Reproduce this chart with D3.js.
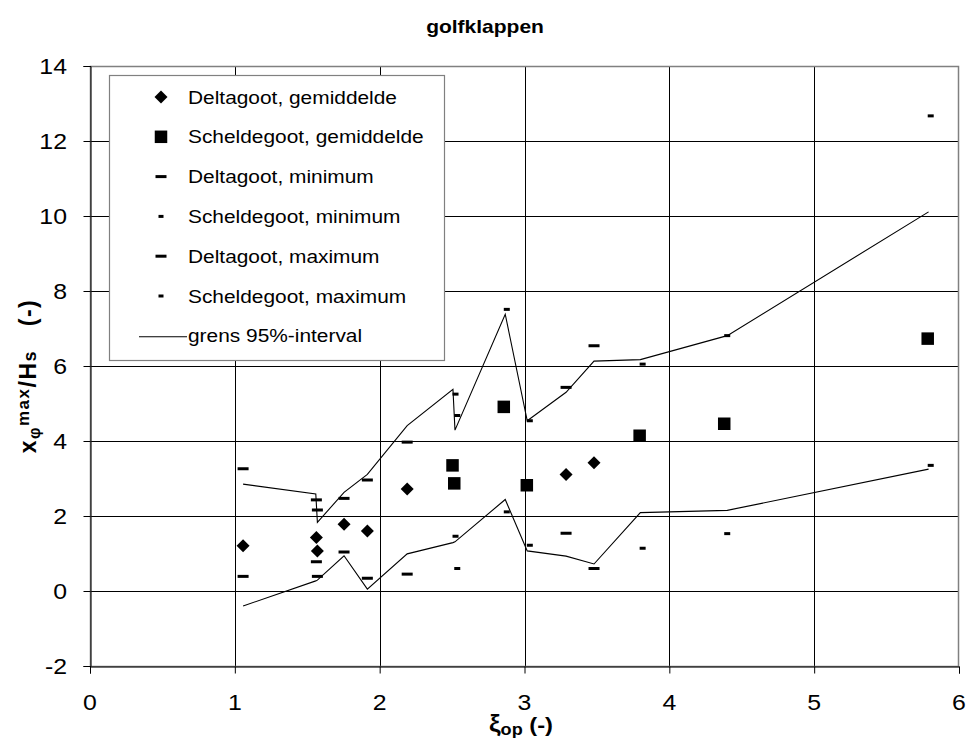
<!DOCTYPE html>
<html><head><meta charset="utf-8">
<script src="https://cdn.jsdelivr.net/npm/d3@7"></script>
<style>body{margin:0;background:#fff}svg{display:block;font-family:"Liberation Sans",Arial,sans-serif}</style>
</head><body><svg id="c" width="970" height="746"></svg>
<script>
// ---- data ----
const xTicks = [0,1,2,3,4,5,6];
const yTicks = [-2,0,2,4,6,8,10,12,14];
// Deltagoot
const deltaX    = [1.057,1.563,1.570,1.754,1.915,2.190,3.287,3.480];
const deltaMean = [1.21, 1.43, 1.07, 1.78, 1.60, 2.72, 3.11, 3.42];
const deltaMin  = [0.39, 0.78, 0.39, 1.04, 0.34, 0.45, 1.54, 0.60];
const deltaMax  = [3.26, 2.43, 2.16, 2.47, 2.96, 3.97, 5.43, 6.54];
// Scheldegoot
const scheldeX    = [2.503,2.515,2.857,3.016,3.795,4.379,5.784];
const scheldeMean = [3.35, 2.87, 4.91, 2.82, 4.14, 4.46, 6.73];
const scheldeMin  = [1.46, 0.60, 2.11, 1.22, 1.14, 1.53, 3.35];
const scheldeMax  = [5.25, 4.68, 7.51, 4.54, 6.05, 6.81, 12.67];
// grens 95%-interval
const grensX     = [1.057,1.559,1.570,1.754,1.915,2.190,2.506,2.520,2.867,3.019,3.287,3.480,3.800,4.400,5.790];
const grensUpper = [2.85, 2.59, 1.83, 2.63, 3.11, 4.41, 5.38, 4.29, 7.38, 4.54, 5.30, 6.13, 6.17, 6.81, 10.11];
const grensLower = [-0.40,0.27, 0.29, 0.94, 0.05, 0.99, 1.29, 1.31, 2.44, 1.07, 0.93, 0.72, 2.09, 2.15, 3.25];
const legendLabels = ["Deltagoot, gemiddelde","Scheldegoot, gemiddelde","Deltagoot, minimum","Scheldegoot, minimum","Deltagoot, maximum","Scheldegoot, maximum","grens 95%-interval"];

// ---- layout ----
const W=970,H=746, m={left:90,right:11,top:66,bottom:80};
const SX=1.13;
const svg=d3.select("#c");
const x=d3.scaleLinear().domain([0,6]).range([m.left,W-m.right]);
const y=d3.scaleLinear().domain([-2,14]).range([H-m.bottom,m.top]);

function stext(parent,px,py,sx){return parent.append("g").attr("transform",`translate(${px},${py}) scale(${sx},1)`).append("text");}

// title
stext(svg,485,33,1.2).attr("text-anchor","middle").attr("font-size",17.5).attr("font-weight","bold").text("golfklappen");

// plot background
svg.append("rect").attr("x",x(0)).attr("y",y(14)).attr("width",x(6)-x(0)).attr("height",y(-2)-y(14)).attr("fill","#fff");

// grid
svg.append("g").selectAll("line").data(yTicks.filter(d=>d>-2&&d<14)).join("line")
  .attr("x1",x(0)).attr("x2",x(6)).attr("y1",d=>Math.round(y(d))+0.5).attr("y2",d=>Math.round(y(d))+0.5).attr("stroke","#000").attr("stroke-width",1);
svg.append("g").selectAll("line").data(xTicks.filter(d=>d>0&&d<6)).join("line")
  .attr("y1",y(14)).attr("y2",y(-2)).attr("x1",d=>Math.round(x(d))+0.5).attr("x2",d=>Math.round(x(d))+0.5).attr("stroke","#000").attr("stroke-width",1);
// border
svg.append("rect").attr("x",x(0)+0.5).attr("y",Math.round(y(14))+0.5).attr("width",x(6)-x(0)-1).attr("height",y(-2)-y(14)).attr("fill","none").attr("stroke","#808080").attr("stroke-width",1.5);

// axes
const yAxis=d3.axisLeft(y).tickValues(yTicks).tickSize(7).tickFormat(d3.format("d"));
const gy=svg.append("g").attr("transform",`translate(${x(0)+0.5},0)`).call(yAxis);
gy.select(".domain").attr("stroke","#000");
gy.selectAll(".tick text").remove();
yTicks.forEach(t=>{stext(svg,67,y(t),SX).attr("text-anchor","end").attr("dy","0.36em").attr("font-size",22).text(t);});

const xAxis=d3.axisBottom(x).tickValues(xTicks).tickSize(7);
const gx=svg.append("g").attr("transform",`translate(0,${Math.round(y(-2))+0.5})`).call(xAxis);
gx.select(".domain").attr("stroke","#000");
gx.selectAll(".tick text").remove();
xTicks.forEach(t=>{stext(svg,x(t),710,SX).attr("text-anchor","middle").attr("font-size",22).text(t);});

// axis titles
{
  const t=stext(svg,521,732,SX).attr("text-anchor","middle").attr("font-weight","bold").attr("font-size",21);
  t.append("tspan").text("ξ").attr("font-size",23);
  t.append("tspan").text("op").attr("font-size",16).attr("dy",3);
  t.append("tspan").text(" (-)").attr("dy",-3);
}
{
  const g=svg.append("g").attr("transform",`translate(36,376) rotate(-90)`);
  const t=g.append("text").attr("text-anchor","middle").attr("font-weight","bold").attr("font-size",23)
    .attr("letter-spacing",1.5).attr("xml:space","preserve");
  t.append("tspan").text("x");
  t.append("tspan").text("φ").attr("font-size",16).attr("dy",4);
  t.append("tspan").text("max").attr("font-size",17).attr("dy",-11);
  t.append("tspan").text("/H").attr("dy",7);
  t.append("tspan").text("s").attr("font-size",18);
  t.append("tspan").text("  (-)").attr("dx",8);
}

// lines
const line=d3.line().x(d=>x(d[0])).y(d=>y(d[1]));
const plot=svg.append("g");
plot.append("path").datum(grensX.map((d,i)=>[d,grensUpper[i]])).attr("d",line).attr("fill","none").attr("stroke","#000").attr("stroke-width",1.1);
plot.append("path").datum(grensX.map((d,i)=>[d,grensLower[i]])).attr("d",line).attr("fill","none").attr("stroke","#000").attr("stroke-width",1.1);

// marker helpers
function diamond(g,cx,cy,r){g.append("path").attr("d",`M${cx},${cy-r}L${cx+r},${cy}L${cx},${cy+r}L${cx-r},${cy}Z`).attr("fill","#000");}
function square(g,cx,cy,s){g.append("rect").attr("x",cx-s/2).attr("y",cy-s/2).attr("width",s).attr("height",s).attr("fill","#000");}
function dash(g,cx,cy,w,h){g.append("rect").attr("x",cx-w/2).attr("y",cy-h/2).attr("width",w).attr("height",h).attr("fill","#000");}

deltaX.forEach((d,i)=>{
  dash(plot,x(d),y(deltaMin[i]),11,3);
  dash(plot,x(d),y(deltaMax[i]),11,3);
  diamond(plot,x(d),y(deltaMean[i]),6.5);
});
scheldeX.forEach((d,i)=>{
  dash(plot,x(d)+3,y(scheldeMin[i]),6,3);
  dash(plot,x(d)+3,y(scheldeMax[i]),6,3);
  square(plot,x(d),y(scheldeMean[i]),12.5);
});

// legend
const lg=svg.append("g");
lg.append("rect").attr("x",109.5).attr("y",75.5).attr("width",335).attr("height",285).attr("fill","#fff").attr("stroke","#808080").attr("stroke-width",1.2);
const rowY=i=>97+i*39.8;
legendLabels.forEach((lab,i)=>{
  const cy=rowY(i), cx=161;
  if(i===0) diamond(lg,cx,cy,6.5);
  else if(i===1) square(lg,cx,cy,12.5);
  else if(i===2||i===4) dash(lg,cx,cy,11,3);
  else if(i===3||i===5) dash(lg,cx,cy,5,3);
  else lg.append("line").attr("x1",139).attr("x2",187).attr("y1",cy+1).attr("y2",cy+1).attr("stroke","#000").attr("stroke-width",1.1);
  stext(lg,188,cy,SX).attr("font-size",18.5).attr("dy","0.36em").text(lab);
});
</script></body></html>
